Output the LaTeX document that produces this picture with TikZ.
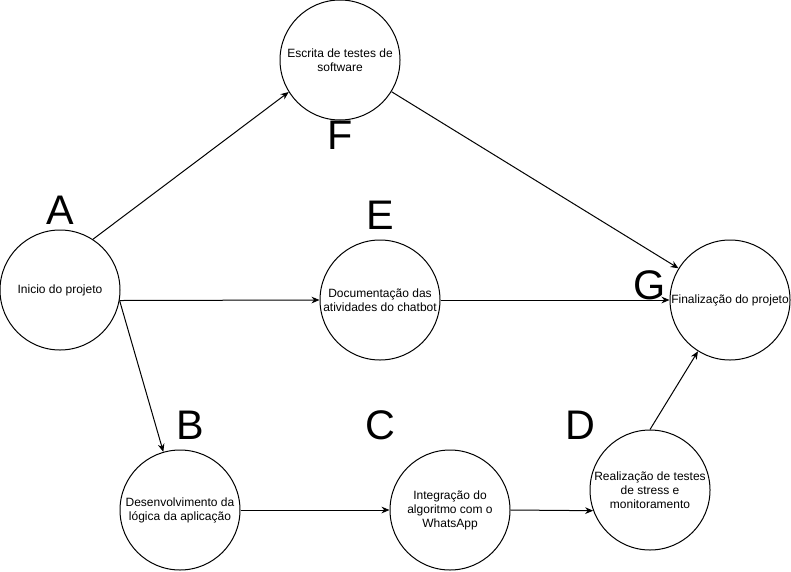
\documentclass[tikz,border=0pt]{standalone}
\usepackage{fontspec}
\setmainfont{Liberation Sans}
\usetikzlibrary{arrows.meta}
\begin{document}
\begin{tikzpicture}[x=0.75pt, y=-0.75pt, font=\fontsize{9}{10.5}\selectfont,
    etapa/.style={draw, circle, line width=0.75pt, minimum size=90pt, inner sep=0pt, align=center},
    letra/.style={font=\fontsize{31}{31}\selectfont, inner sep=0pt},
    seta/.style={line width=0.75pt, -{Stealth[length=6pt, width=5pt]}}]
        \useasboundingbox (0,0) rectangle (791,571);
        % etapas
        \node[etapa] (A) at (60,290) {Inicio do projeto};
        \node[etapa] (F) at (340,60) {Escrita de testes de\\software};
        \node[etapa] (E) at (380,300) {Documentação das\\atividades do chatbot};
        \node[etapa] (G) at (730,300) {Finalização do projeto};
        \node[etapa] (B) at (180,510) {Desenvolvimento da\\lógica da aplicação};
        \node[etapa] (C) at (450,510) {Integração do\\algoritmo com o\\WhatsApp};
        \node[etapa] (D) at (650,490) {Realização de testes\\de stress e\\monitoramento};
        % letras
        \node[letra] (lA) at (60,210) {A};
        \node[letra] (lF) at (340,135) {F};
        \node[letra] (lE) at (380,215) {E};
        \node[letra] (lG) at (650,285) {G};
        \node[letra] (lB) at (190,425) {B};
        \node[letra] (lC) at (380,425) {C};
        \node[letra] (lD) at (580,425) {D};
        % ligacoes
        \draw[seta] (A.57) -- (F.212);
        \draw[seta] (A.-10) -- (E.west);
        \draw[seta] (A.-10) -- (B.106);
        \draw[seta] (F) -- (G);
        \draw[seta] (E.east) -- (G.west);
        \draw[seta] (B.east) -- (C.west);
        \draw[seta] (C.east) -- (D.200);
        \draw[seta] (D.north) -- (G.-122);
\end{tikzpicture}
\end{document}
